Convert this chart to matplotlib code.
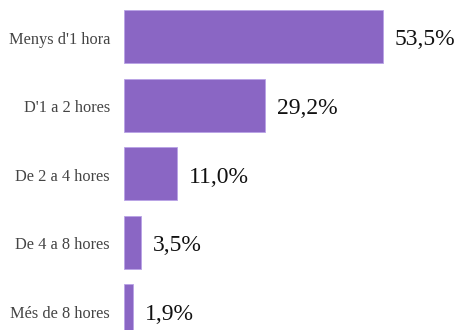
import matplotlib
matplotlib.use('Agg')
import matplotlib.pyplot as plt
import matplotlib.transforms as mtransforms

categories = ["Menys d'1 hora", "D'1 a 2 hores", "De 2 a 4 hores", "De 4 a 8 hores", "Més de 8 hores"]
values = [53.5, 29.2, 11.0, 3.5, 1.9]
value_labels = ["53,5%", "29,2%", "11,0%", "3,5%", "1,9%"]

plt.rcParams['font.family'] = ['Liberation Serif', 'DejaVu Serif']

fig = plt.figure(figsize=(4.58, 3.30), dpi=100)
ax = fig.add_axes([124 / 458, 0, 1 - 124 / 458, 1])

pos = list(range(len(categories)))
ax.barh(pos, values, height=0.77, color='#8a66c4', edgecolor='#b9a2e6', linewidth=0.6)

ax.set_xlim(0, (458 - 124) / 4.84)
ax.set_ylim((330 - 36.5) / 68.6, -36.5 / 68.6)

for p, v, lab in zip(pos, values, value_labels):
    ax.text(v + 2.4, p + 0.05, lab, va='center', ha='left', fontsize=17, color='#111111')

# category labels to the left of the bars, a little below the bar centre
off = mtransforms.offset_copy(ax.transData, fig=fig, x=-14, y=-3, units='dots')
for p, cat in zip(pos, categories):
    ax.text(0, p, cat, transform=off, va='center', ha='right', fontsize=11.8,
            color='#444444', clip_on=False)

ax.set_yticks([])
ax.set_xticks([])
for s in ax.spines.values():
    s.set_visible(False)

fig.savefig('out.png', dpi=100)
